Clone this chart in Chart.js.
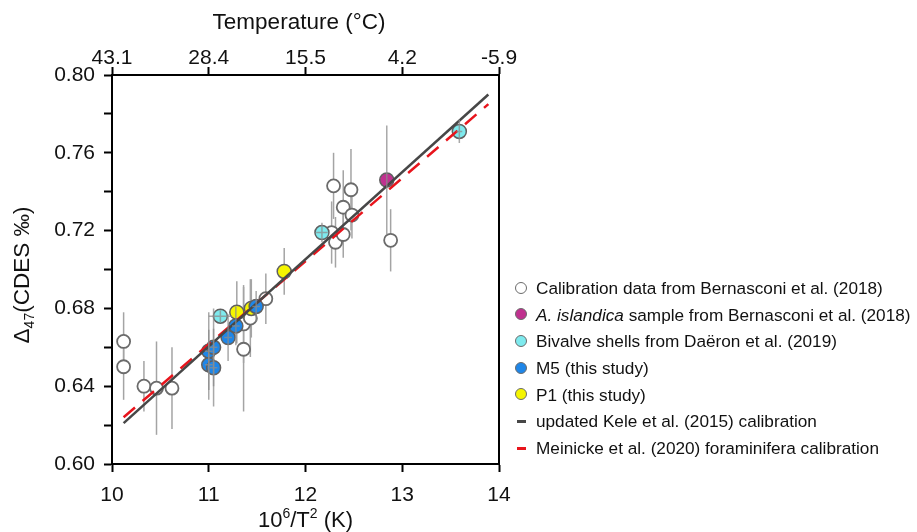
<!DOCTYPE html>
<html>
<head>
<meta charset="utf-8">
<script src="https://cdn.jsdelivr.net/npm/chart.js@4"></script>
<style>
  body { margin: 0; background: #fff; font-family: "Liberation Sans", Arial, sans-serif; }
  #wrap { position: relative; width: 917px; height: 532px; }
  #legend { position: absolute; left: 512px; top: 275px; font-size: 17.2px; color: #111; }
  .row { height: 26.7px; line-height: 26.7px; white-space: nowrap; position: relative; padding-left: 24px; }
  .dot { position: absolute; left: 3px; top: 6.5px; width: 10px; height: 10px; border-radius: 50%; border: 1.5px solid #6b6b6b; }
  .dash { position: absolute; left: 5px; top: 12px; width: 9px; height: 3px; }
</style>
</head>
<body>
<div id="wrap">
  <canvas id="chart" width="917" height="532"></canvas>
  <div id="legend"></div>
</div>
<script>
// x = 10^6/T^2, y = Δ47
const calX = [10.12, 10.12, 10.33, 10.46, 10.62, 11.36, 11.36, 11.43, 11.59, 12.27, 12.31, 12.29, 12.39, 12.39, 12.47, 12.48, 12.88];
const calY = [0.663, 0.650, 0.640, 0.639, 0.639, 0.659, 0.672, 0.675, 0.685, 0.719, 0.714, 0.743, 0.732, 0.718, 0.741, 0.728, 0.715];
const calErr = [0.015, 0.017, 0.013, 0.024, 0.021, 0.032, 0.020, 0.020, 0.013, 0.016, 0.013, 0.017, 0.019, 0.012, 0.021, 0.012, 0.016];

const islX = [12.84];
const islY = [0.746];
const islErr = [0.028];

const bivX = [11.12, 12.17, 13.59];
const bivY = [0.676, 0.719, 0.771];
const bivErr = [0.003, 0.005, 0.006];
const bivXErr = [0.12, 0.06, 0.03];

const m5X = [11.00, 11.05, 11.00, 11.05, 11.20, 11.28, 11.49];
const m5Y = [0.658, 0.660, 0.651, 0.6495, 0.665, 0.671, 0.681];
const m5Err = [0.020, 0.020, 0.018, 0.020, 0.012, 0.010, 0.008];
const m5XErr = [0.04, 0.04, 0.04, 0.04, 0.04, 0.04, 0.04];

const p1X = [11.29, 11.44, 11.78];
const p1Y = [0.678, 0.680, 0.699];
const p1Err = [0.016, 0.015, 0.012];

const keleX = [10.12, 13.89];
const keleY = [0.621, 0.790];
const meiX = [10.12, 13.89];
const meiY = [0.624, 0.785];

const xTicks = [10, 11, 12, 13, 14];
const tempLabels = ['43.1', '28.4', '15.5', '4.2', '-5.9'];

const FONT = '"Liberation Sans", Arial, sans-serif';

function pts(xs, ys) {
    return xs.map((x, i) => ({ x: x, y: ys[i] }));
}

// error bars, grey ones behind their circles, the rest on top
const errorBars = {
    id: 'errorBars',
    draw(chart, front) {
        const ctx = chart.ctx;
        const xs = chart.scales.x, ys = chart.scales.y;
        chart.data.datasets.forEach(ds => {
            if (!ds.yErr || !!ds.errFront !== front) return;
            ctx.save();
            ctx.strokeStyle = front ? 'rgba(140,140,140,0.75)' : '#a4a4a4';
            ctx.lineWidth = 1.5;
            ds.data.forEach((p, i) => {
                const px = xs.getPixelForValue(p.x);
                const py = ys.getPixelForValue(p.y);
                ctx.beginPath();
                ctx.moveTo(px, ys.getPixelForValue(p.y - ds.yErr[i]));
                ctx.lineTo(px, ys.getPixelForValue(p.y + ds.yErr[i]));
                if (ds.xErr) {
                    ctx.moveTo(xs.getPixelForValue(p.x - ds.xErr[i]), py);
                    ctx.lineTo(xs.getPixelForValue(p.x + ds.xErr[i]), py);
                }
                ctx.stroke();
            });
            ctx.restore();
        });
    },
    beforeDatasetsDraw(chart) { this.draw(chart, false); },
    afterDatasetsDraw(chart) { this.draw(chart, true); }
};

// right border + axis titles with sub/superscripts
const frame = {
    id: 'frame',
    afterDraw(chart) {
        const ctx = chart.ctx;
        const a = chart.chartArea;
        ctx.save();
        ctx.strokeStyle = '#000';
        ctx.lineWidth = 2;
        ctx.beginPath();
        ctx.moveTo(a.right, a.top);
        ctx.lineTo(a.right, a.bottom);
        ctx.stroke();

        ctx.fillStyle = '#111';
        ctx.textBaseline = 'alphabetic';

        // bottom title: 10^6/T^2 (K)
        const parts = [['10', 22, 0], ['6', 14, -9], ['/T', 22, 0], ['2', 14, -9], [' (K)', 22, 0]];
        let w = 0;
        parts.forEach(p => { ctx.font = p[1] + 'px ' + FONT; w += ctx.measureText(p[0]).width; });
        let x = (a.left + a.right) / 2 - w / 2;
        parts.forEach(p => {
            ctx.font = p[1] + 'px ' + FONT;
            ctx.fillText(p[0], x, 527 + p[2]);
            x += ctx.measureText(p[0]).width;
        });

        // top title
        ctx.font = '22.5px ' + FONT;
        ctx.textAlign = 'center';
        ctx.fillText('Temperature (\u00B0C)', 299, 29);

        // y title: Δ47 (CDES ‰)
        ctx.translate(29, 275);
        ctx.rotate(-Math.PI / 2);
        ctx.textAlign = 'left';
        const yp = [['\u0394', 22.5, 0], ['47', 14, 5], ['(CDES \u2030)', 22.5, 0]];
        w = 0;
        yp.forEach(p => { ctx.font = p[1] + 'px ' + FONT; w += ctx.measureText(p[0]).width; });
        x = -w / 2;
        yp.forEach(p => {
            ctx.font = p[1] + 'px ' + FONT;
            ctx.fillText(p[0], x, p[2]);
            x += ctx.measureText(p[0]).width;
        });
        ctx.restore();
    }
};

const tickFont = { family: FONT, size: 21 };
const axisGrid = { drawOnChartArea: false, drawTicks: true, tickLength: 8, tickColor: '#000', tickWidth: 2 };

new Chart(document.getElementById('chart'), {
    type: 'scatter',
    data: {
        datasets: [
            { type: 'line', label: 'Kele', data: pts(keleX, keleY), borderColor: '#474747', borderWidth: 2.5, pointRadius: 0, fill: false },
            { type: 'line', label: 'Meinicke', data: pts(meiX, meiY), borderColor: '#e8141c', borderWidth: 2.5, borderDash: [15, 10], pointRadius: 0, fill: false },
            { label: 'M5', data: pts(m5X, m5Y), yErr: m5Err, xErr: m5XErr, errFront: true, backgroundColor: '#1e86e8', borderColor: '#606060', borderWidth: 1.5, pointRadius: 7 },
            { label: 'P1', data: pts(p1X, p1Y), yErr: p1Err, errFront: false, backgroundColor: '#f5f500', borderColor: '#606060', borderWidth: 1.5, pointRadius: 7 },
            { label: 'Bivalve', data: pts(bivX, bivY), yErr: bivErr, xErr: bivXErr, errFront: true, backgroundColor: '#7eeaee', borderColor: '#606060', borderWidth: 1.5, pointRadius: 7 },
            { label: 'islandica', data: pts(islX, islY), yErr: islErr, errFront: true, backgroundColor: '#c0318f', borderColor: '#606060', borderWidth: 1.5, pointRadius: 7 },
            { label: 'Calibration', data: pts(calX, calY), yErr: calErr, errFront: false, backgroundColor: '#fff', borderColor: '#6b6b6b', borderWidth: 1.8, pointRadius: 6.5 }
        ]
    },
    options: {
        responsive: false,
        animation: false,
        layout: { padding: { left: 0, right: 418, top: 0, bottom: 0 } },
        plugins: { legend: { display: false }, tooltip: { enabled: false } },
        scales: {
            x: {
                type: 'linear', position: 'bottom', min: 10, max: 14,
                afterFit(s) { s.height = 68; },
                afterBuildTicks(s) { s.ticks = xTicks.map(v => ({ value: v })); },
                ticks: { font: tickFont, color: '#111', padding: 11, maxRotation: 0 },
                grid: axisGrid,
                border: { display: true, color: '#000', width: 2 }
            },
            x2: {
                type: 'linear', position: 'top', min: 10, max: 14,
                afterFit(s) { s.height = 75; },
                afterBuildTicks(s) { s.ticks = xTicks.map(v => ({ value: v })); },
                ticks: { font: tickFont, color: '#111', padding: -4, maxRotation: 0,
                    callback: (v) => tempLabels[xTicks.indexOf(v)] },
                grid: axisGrid,
                border: { display: true, color: '#000', width: 2 }
            },
            y: {
                type: 'linear', min: 0.6, max: 0.8,
                afterFit(s) { s.width = 112; },
                ticks: { stepSize: 0.02, font: tickFont, color: '#111', padding: 9,
                    callback: (v) => Math.round(v * 100) % 4 === 0 ? v.toFixed(2) : '' },
                grid: axisGrid,
                border: { display: true, color: '#000', width: 2 }
            }
        }
    },
    plugins: [errorBars, frame]
});

// legend
const legendItems = [
    { kind: 'dot', color: '#fff', html: 'Calibration data from Bernasconi et al. (2018)' },
    { kind: 'dot', color: '#c0318f', html: '<i>A. islandica</i> sample from Bernasconi et al. (2018)' },
    { kind: 'dot', color: '#7eeaee', html: 'Bivalve shells from Da\u00EBron et al. (2019)' },
    { kind: 'dot', color: '#1e86e8', html: 'M5 (this study)' },
    { kind: 'dot', color: '#f5f500', html: 'P1 (this study)' },
    { kind: 'dash', color: '#474747', html: 'updated Kele et al. (2015) calibration' },
    { kind: 'dash', color: '#e8141c', html: 'Meinicke et al. (2020) foraminifera calibration' }
];
document.getElementById('legend').innerHTML = legendItems.map(it =>
    `<div class="row"><span class="${it.kind}" style="background:${it.color}"></span>${it.html}</div>`
).join('');
</script>
</body>
</html>
